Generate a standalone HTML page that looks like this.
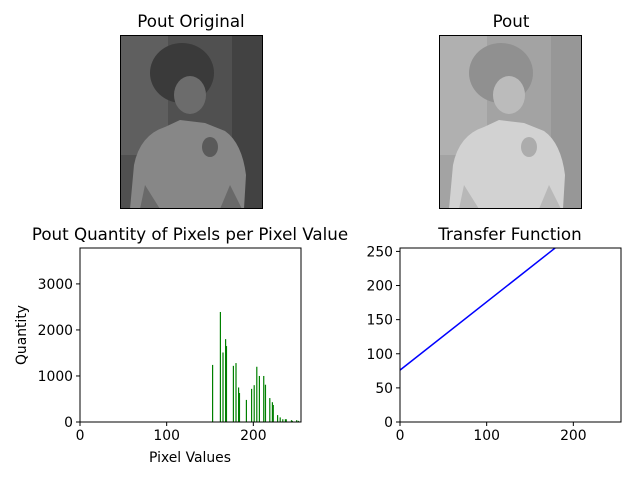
<!DOCTYPE html>
<html><head><meta charset="utf-8">
<style>
html,body{margin:0;padding:0;background:#fff;}
svg{display:block;font-family:"DejaVu Sans","Liberation Sans",sans-serif;}
</style></head>
<body>
<svg id="fig" width="640" height="480" viewBox="0 0 640 480" xmlns="http://www.w3.org/2000/svg">
<rect width="640" height="480" fill="#fff"/>
<g id="img1"></g>
<g id="img2"></g>
<text x="191" y="27" font-size="16.7" text-anchor="middle">Pout Original</text>
<text x="511" y="27" font-size="16.7" text-anchor="middle">Pout</text>
<text x="190" y="240" font-size="16.7" text-anchor="middle">Pout Quantity of Pixels per Pixel Value</text>
<text x="510" y="240" font-size="16.7" text-anchor="middle">Transfer Function</text>
<g id="hist"></g>
<g id="tf"></g>
</svg>
<script>
// Histogram data
const histValues = [153,162,165,168,169,177,180,183,184,192,198,201,204,207,212,214,219,222,223,228,231,234,237,238,244,245,250,252];
const histCounts = [1240,2390,1510,1800,1650,1220,1280,750,630,480,720,800,1200,1000,1000,810,520,430,370,150,100,60,60,60,40,25,40,25];
const histXTicks = [0,100,200];
const histYTicks = [0,1000,2000,3000];
// Transfer function data
const tfX = [0,255];
const tfY = [76,331];
const tfXTicks = [0,100,200];
const tfYTicks = [0,50,100,150,200,250];

const NS="http://www.w3.org/2000/svg";
function mk(tag,attrs,parent){const e=document.createElementNS(NS,tag);for(const k in attrs)e.setAttribute(k,attrs[k]);parent.appendChild(e);return e;}

// photos
function photo(g,x0,y0,add,k){
  function c(v){v=Math.min(255,Math.round(v*k+add));return `rgb(${v},${v},${v})`;}
  const s=mk('g',{transform:`translate(${x0},${y0})`},g);
  mk('rect',{x:0,y:0,width:143,height:174,fill:c(80)},s);
  mk('rect',{x:0,y:0,width:48,height:120,fill:c(95)},s);
  mk('rect',{x:112,y:0,width:31,height:174,fill:c(66)},s);
  mk('ellipse',{cx:62,cy:38,rx:32,ry:30,fill:c(58)},s);
  mk('ellipse',{cx:70,cy:60,rx:16,ry:19,fill:c(108)},s);
  mk('path',{d:'M10 174 L14 130 Q20 100 45 92 L60 85 L85 88 L105 96 Q122 108 126 140 L124 174 Z',fill:c(135)},s);
  mk('path',{d:'M25 150 L40 174 L20 174 Z M110 150 L100 174 L122 174 Z',fill:c(105)},s);
  mk('ellipse',{cx:90,cy:112,rx:8,ry:10,fill:c(90)},s);
  mk('rect',{x:0.5,y:0.5,width:142,height:173,fill:'none',stroke:'#000','stroke-width':1},s);
}
photo(document.getElementById('img1'),120,35,0,1);
photo(document.getElementById('img2'),439,35,95,0.85);

// Histogram axes
const H={x0:80,x1:301,y0:422,y1:248,xmax:255,ymax:3780};
const hx=v=>H.x0+v/H.xmax*(H.x1-H.x0);
const hy=v=>H.y0-v/H.ymax*(H.y0-H.y1);
const hg=document.getElementById('hist');
histValues.forEach((v,i)=>{
  const r=mk('rect',{x:hx(v)-0.6,y:hy(histCounts[i]),width:1.2,height:H.y0-hy(histCounts[i]),fill:'#008000'},hg);
  
  
});
mk('rect',{x:H.x0,y:H.y1,width:H.x1-H.x0,height:H.y0-H.y1,fill:'none',stroke:'#000','stroke-width':1},hg);
histXTicks.forEach(t=>{
  mk('line',{x1:hx(t),x2:hx(t),y1:H.y0,y2:H.y0+4,stroke:'#000'},hg);
  const tx=mk('text',{x:hx(t),y:H.y0+18,'font-size':13.9,'text-anchor':'middle'},hg);tx.textContent=t;
  
  
});
histYTicks.forEach(t=>{
  mk('line',{x1:H.x0-4,x2:H.x0,y1:hy(t),y2:hy(t),stroke:'#000'},hg);
  const tx=mk('text',{x:H.x0-7,y:hy(t)+5,'font-size':13.9,'text-anchor':'end'},hg);tx.textContent=t;
  
  
});
let xl=mk('text',{x:190,y:462,'font-size':13.9,'text-anchor':'middle'},hg);xl.textContent='Pixel Values';


let yl=mk('text',{x:0,y:0,'font-size':13.9,'text-anchor':'middle',transform:'translate(26,335) rotate(-90)'},hg);yl.textContent='Quantity';



// Transfer function
const T={x0:400,x1:621,y0:422,y1:248,xmax:255,ymax:255};
const tx_=v=>T.x0+v/T.xmax*(T.x1-T.x0);
const ty_=v=>T.y0-v/T.ymax*(T.y0-T.y1);
const tg=document.getElementById('tf');
mk('clipPath',{id:'tfclip'},tg);
mk('rect',{x:T.x0,y:T.y1,width:T.x1-T.x0,height:T.y0-T.y1},document.getElementById('tfclip'));
const pl=mk('polyline',{points:tfX.map((x,i)=>tx_(x)+','+ty_(tfY[i])).join(' '),fill:'none',stroke:'#0000ff','stroke-width':1.5,'clip-path':'url(#tfclip)'},tg);


mk('rect',{x:T.x0,y:T.y1,width:T.x1-T.x0,height:T.y0-T.y1,fill:'none',stroke:'#000','stroke-width':1},tg);
tfXTicks.forEach(t=>{
  mk('line',{x1:tx_(t),x2:tx_(t),y1:T.y0,y2:T.y0+4,stroke:'#000'},tg);
  const e=mk('text',{x:tx_(t),y:T.y0+18,'font-size':13.9,'text-anchor':'middle'},tg);e.textContent=t;
  
  
});
tfYTicks.forEach(t=>{
  mk('line',{x1:T.x0-4,x2:T.x0,y1:ty_(t),y2:ty_(t),stroke:'#000'},tg);
  const e=mk('text',{x:T.x0-7,y:ty_(t)+5,'font-size':13.9,'text-anchor':'end'},tg);e.textContent=t;
  
  
});
</script>
</body></html>
